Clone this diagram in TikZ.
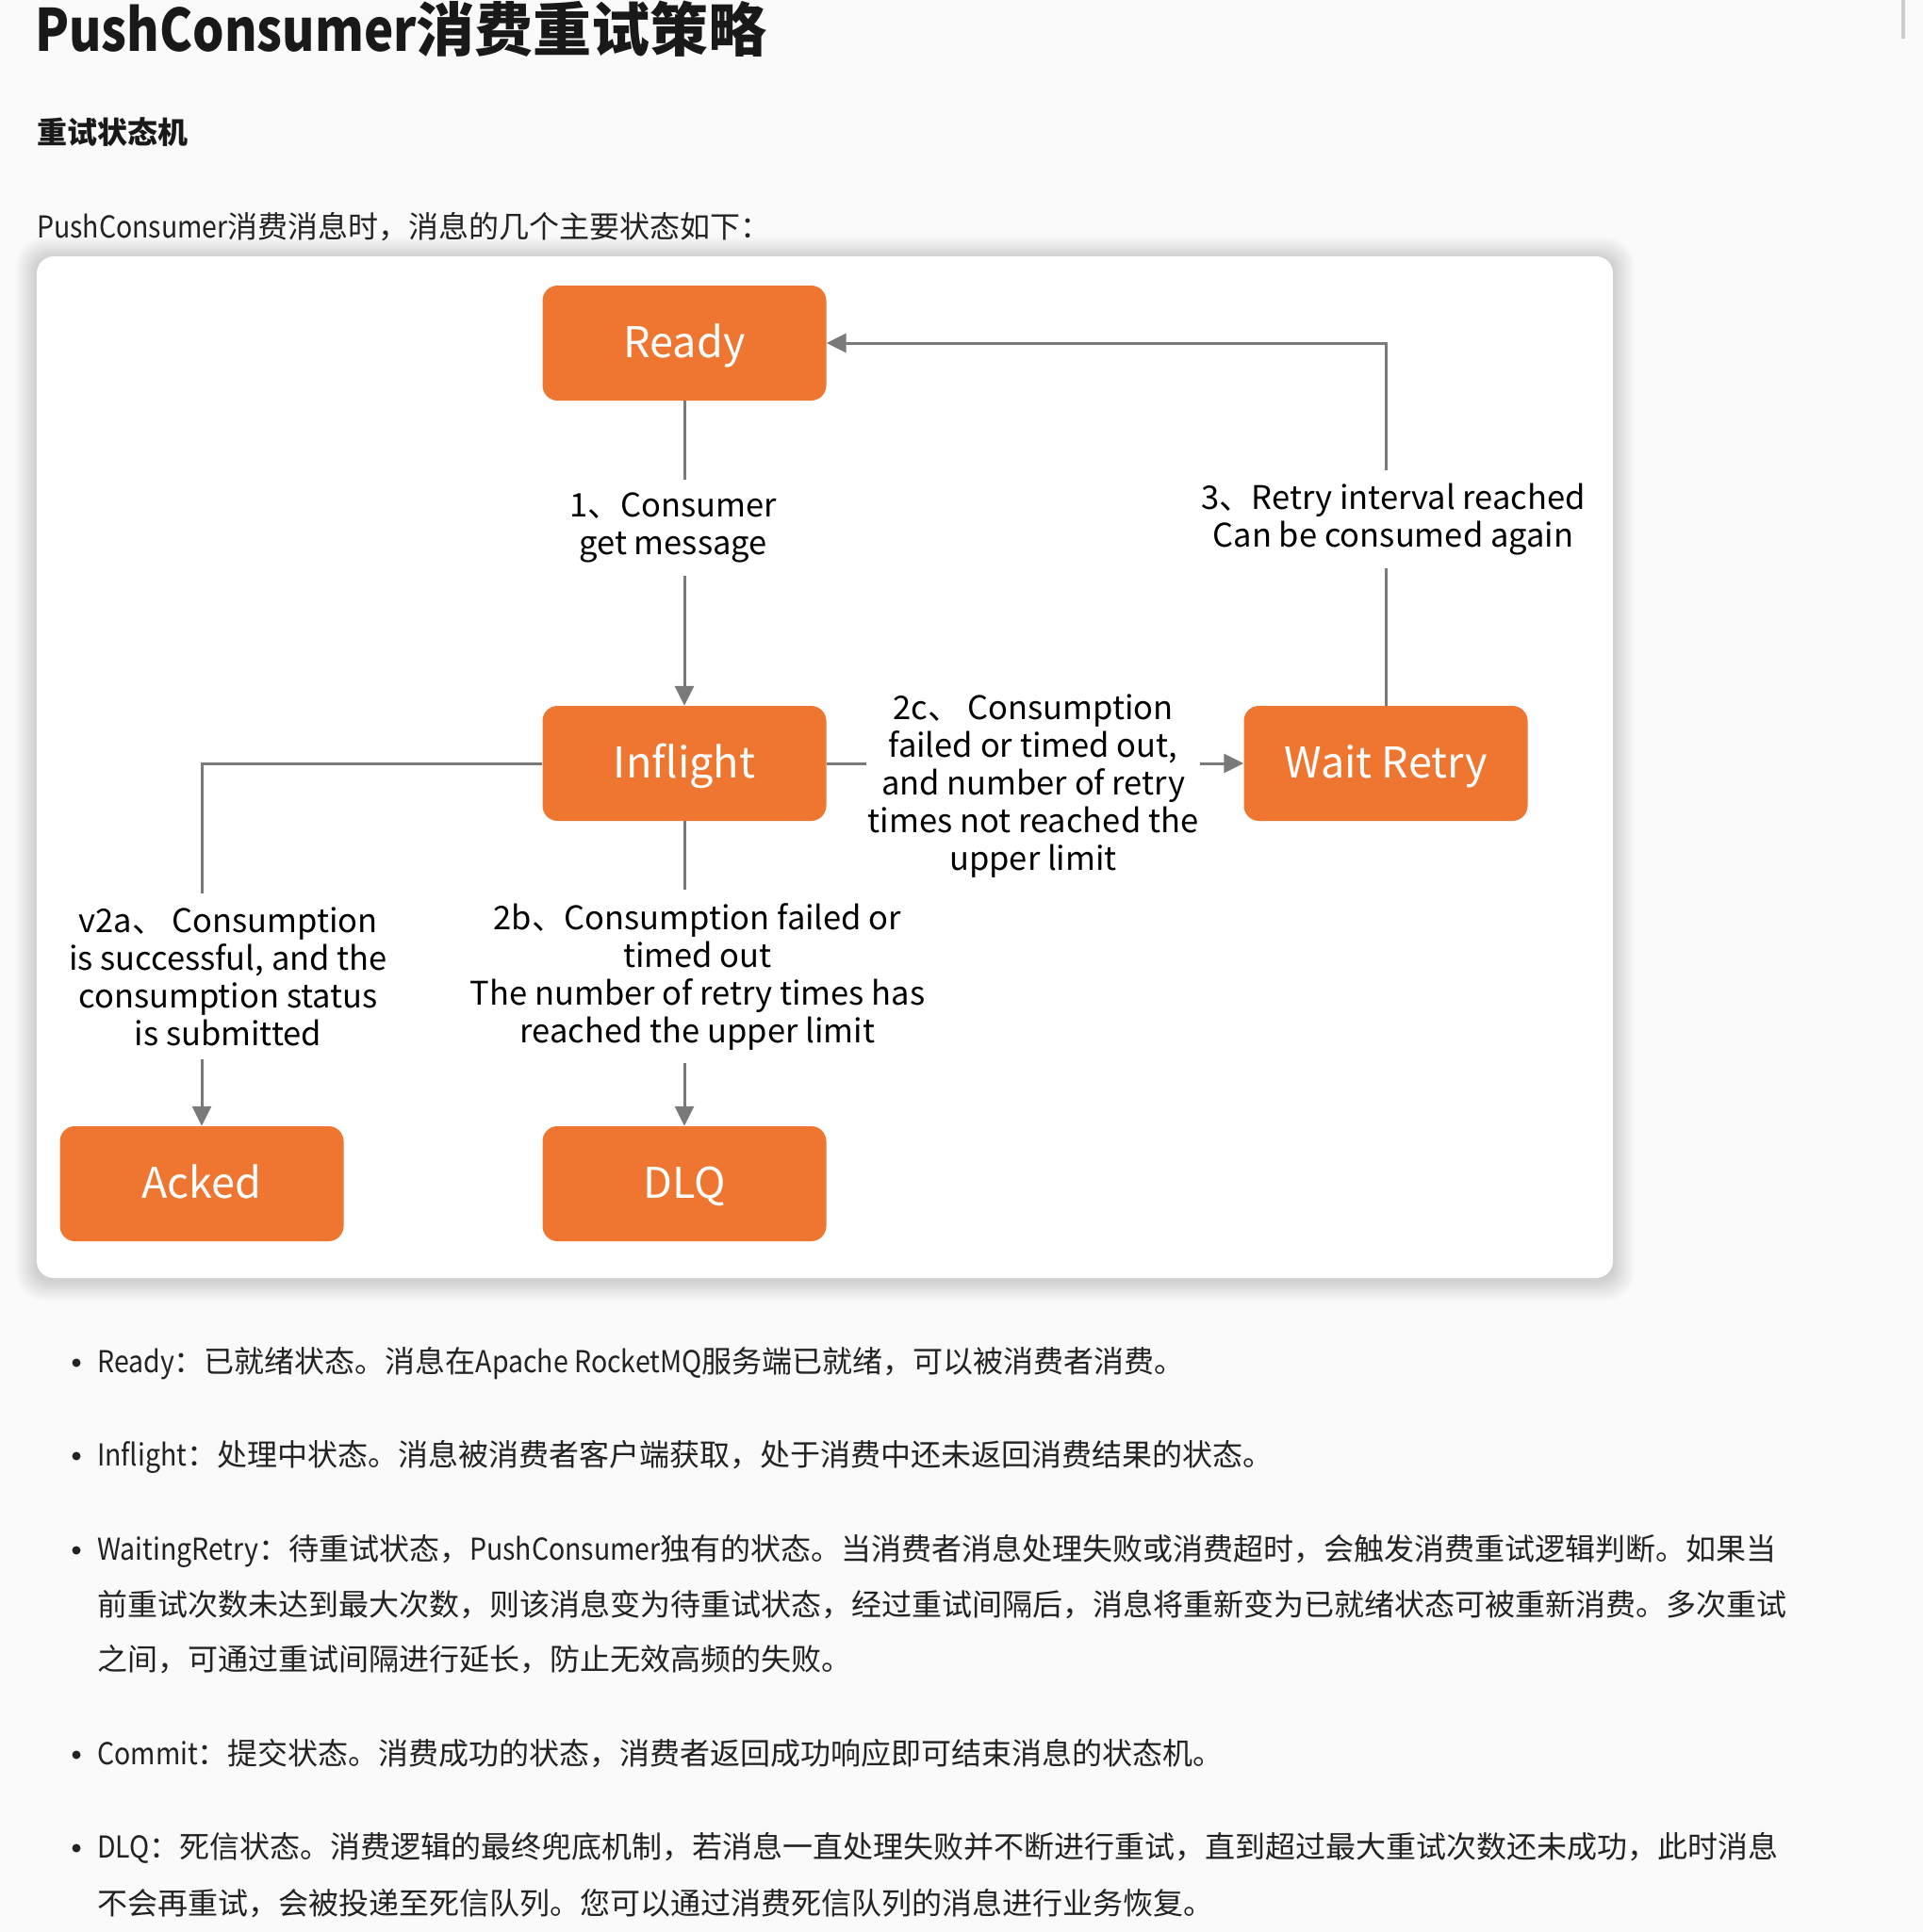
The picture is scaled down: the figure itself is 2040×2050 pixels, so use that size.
\documentclass[tikz,border=0pt]{standalone}
\usepackage{fontspec}
\newfontfamily\cjk{Noto Sans CJK SC}
\newfontfamily\lat{Noto Sans CJK SC}[FakeStretch=0.89]
\newfontfamily\latb{Noto Sans CJK SC}[FakeStretch=0.85]
\usetikzlibrary{arrows.meta}
\definecolor{bgc}{HTML}{FAFAFA}
\definecolor{orangec}{HTML}{EE7630}
\definecolor{linec}{HTML}{7A7A7A}
\definecolor{txt}{HTML}{222222}
\tikzset{
  state/.style={fill=orangec, rounded corners=16pt, minimum width=301pt, minimum height=122pt,
    inner sep=0pt, text=white, text height=30pt, text depth=0pt, font=\cjk\fontsize{45}{50}\selectfont},
  conn/.style={draw=linec, line width=3pt, -{Triangle[length=21pt,width=20pt]}},
  lbl/.style={fill=white, align=center, text=black, inner xsep=6pt, inner ysep=14pt,
    font=\cjk\fontsize{34.5}{40}\selectfont},
  bodytext/.style={anchor=base west, inner sep=0pt, text=txt, font=\cjk\fontsize{32}{32}\selectfont},
  bul/.style={circle, fill=txt, inner sep=0pt, minimum size=9pt}
}
\begin{document}
\begin{tikzpicture}[x=1pt,y=-1pt]
\useasboundingbox (0,0) rectangle (2040,2050);
\fill[bgc] (0,0) rectangle (2040,2050);
% scrollbar mark
\fill[black!20] (2017,0) rectangle (2021,41);
% title and intro
\node[anchor=base west, inner sep=0pt, text=black!90, font=\cjk\bfseries\fontsize{62}{62}\selectfont] (title) at (37,55) {{\latb\bfseries PushConsumer}消费重试策略};
\node[anchor=base west, inner sep=0pt, text=black!90, font=\cjk\bfseries\fontsize{32}{32}\selectfont] (head) at (39,152) {重试状态机};
\node[bodytext] (intro) at (39,252) {{\lat PushConsumer}消费消息时，消息的几个主要状态如下：};
% diagram card with soft shadow
\foreach \i in {1,...,14} {
  \fill[black, opacity=0.012, rounded corners={16+\i}] (39-\i*1.6, 274-\i*1.6) rectangle (1711+\i*1.6, 1358+\i*1.6);
}
\fill[white, rounded corners=18pt] (39,272) rectangle (1711,1356);
% states
\node[state] (ready) at (726,364) {Ready};
\node[state] (inflight) at (726,810) {Inflight};
\node[state] (wait) at (1470,810) {Wait Retry};
\node[state] (acked) at (214,1256) {Acked};
\node[state] (dlq) at (726,1256) {DLQ};
% connectors
\draw[conn] (ready) -- (inflight);
\draw[conn] (wait.north) |- (ready.east);
\draw[conn] (inflight) -- (wait);
\draw[conn] (inflight.west) -| (acked.north);
\draw[conn] (inflight) -- (dlq);
% labels
\node[lbl] (l1) at (714,560) {1、Consumer\\get message};
\node[lbl] (l3) at (1478,551) {3、Retry interval reached\\Can be consumed again};
\node[lbl, inner xsep=2pt] (l2c) at (1096,834) {2c、 Consumption\\failed or timed out,\\and number of retry\\times not reached the\\upper limit};
\node[lbl] (l2a) at (242,1036) {v2a、 Consumption\\is successful, and the\\consumption status\\is submitted};
\node[lbl] (l2b) at (740,1036) {2b、Consumption failed or\\timed out\\The number of retry times has\\reached the upper limit};
% bullet list
\node[bul] (b1) at (81,1446) {};
\node[bodytext] (t1) at (103,1456) {{\lat Ready}：已就绪状态。消息在{\lat Apache RocketMQ}服务端已就绪，可以被消费者消费。};
\node[bul] (b2) at (81,1545) {};
\node[bodytext] (t2) at (103,1555) {{\lat Inflight}：处理中状态。消息被消费者客户端获取，处于消费中还未返回消费结果的状态。};
\node[bul] (b3) at (81,1645) {};
\node[bodytext] (t3a) at (103,1655) {{\lat WaitingRetry}：待重试状态，{\lat PushConsumer}独有的状态。当消费者消息处理失败或消费超时，会触发消费重试逻辑判断。如果当};
\node[bodytext] (t3b) at (103,1714) {前重试次数未达到最大次数，则该消息变为待重试状态，经过重试间隔后，消息将重新变为已就绪状态可被重新消费。多次重试};
\node[bodytext] (t3c) at (103,1772) {之间，可通过重试间隔进行延长，防止无效高频的失败。};
\node[bul] (b4) at (81,1862) {};
\node[bodytext] (t4) at (103,1872) {{\lat Commit}：提交状态。消费成功的状态，消费者返回成功响应即可结束消息的状态机。};
\node[bul] (b5) at (81,1961) {};
\node[bodytext] (t5a) at (103,1971) {{\lat DLQ}：死信状态。消费逻辑的最终兜底机制，若消息一直处理失败并不断进行重试，直到超过最大重试次数还未成功，此时消息};
\node[bodytext] (t5b) at (103,2031) {不会再重试，会被投递至死信队列。您可以通过消费死信队列的消息进行业务恢复。};
\end{tikzpicture}
\end{document}
